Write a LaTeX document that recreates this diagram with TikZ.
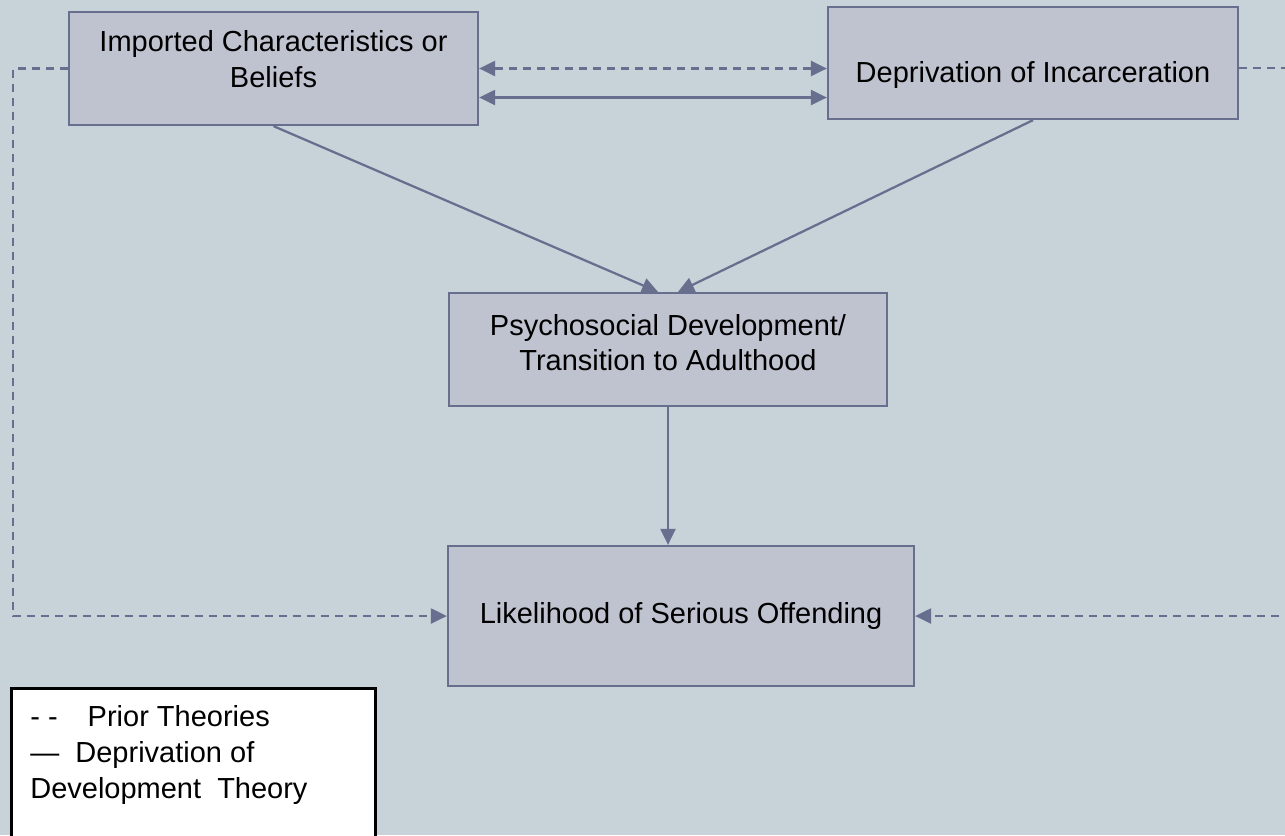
\documentclass[tikz,border=0pt]{standalone}
\usepackage{fontspec}
\setmainfont{Liberation Sans}
\usepackage{tikz}
\usepackage{xcolor}
\usetikzlibrary{arrows.meta,positioning}

\definecolor{bgcol}{HTML}{C7D2D9}
\definecolor{boxfill}{HTML}{BFC3D0}
\definecolor{boxline}{HTML}{686F8E}

\begin{document}
\begin{tikzpicture}[
        stage/.style={draw=boxline, fill=boxfill, line width=0.045cm, align=center,
            font=\fontsize{16.5}{20}\selectfont},
        link/.style={draw=boxline, line width=0.045cm, -{Triangle[length=0.32cm, width=0.3cm]}},
        twoway/.style={link, {Triangle[length=0.32cm, width=0.3cm]}-{Triangle[length=0.32cm, width=0.3cm]}},
        prior/.style={dash pattern=on 0.16cm off 0.12cm}
    ]
        \useasboundingbox (0,0) rectangle (25.7,-16.7);
        \fill[bgcol] (0,0) rectangle (25.7,-16.7);
        \clip (0,0) rectangle (25.7,-16.7);

        \node [stage, minimum width=8.18cm, minimum height=2.26cm, text depth=0.38cm] (A) at (5.47,-1.37) {Imported Characteristics or\\Beliefs};
        \node [stage, minimum width=8.2cm, minimum height=2.24cm, text height=0.88cm, text depth=0.12cm] (B) at (20.66,-1.26) {Deprivation of Incarceration};
        \node [stage, minimum width=8.76cm, minimum height=2.26cm, text depth=0.28cm] (C) at (13.36,-6.99) {Psychosocial Development/\\Transition to Adulthood};
        \node [stage, minimum width=9.32cm, minimum height=2.8cm] (D) at (13.62,-12.32) {Likelihood of Serious Offending};

        \coordinate (lc) at (0.26,0);
        \coordinate (rc) at (26.0,0);

        \draw [twoway, prior] (A.east) -- (A.east -| B.west);
        \draw [twoway] ([yshift=-0.58cm]A.east) -- ([yshift=-0.58cm]A.east -| B.west);
        \draw [link] (A.south) -- ([xshift=-0.2cm]C.north);
        \draw [link] (B.south) -- ([xshift=0.2cm]C.north);
        \draw [link] (C.south) -- (C.south |- D.north);
        \draw [link, prior] (A.west) -| (lc |- D.west) -- (D.west);
        \draw [link, prior] ([yshift=-0.1cm]B.east) -| (rc |- D.east) -- (D.east);

        \node [draw=black, fill=white, line width=0.05cm, minimum width=7.28cm, minimum height=3.4cm, anchor=north west] (key) at (0.2,-13.74) {};
        \node [inner sep=0pt, align=left, anchor=north west, font=\fontsize{16.5}{20.5}\selectfont,
            below right=0.36cm and 0.4cm of key.north west] (keytext) {- -\hspace{0.6cm}Prior Theories\\—\ \ Deprivation of\\Development\ \ Theory};
\end{tikzpicture}
\end{document}
